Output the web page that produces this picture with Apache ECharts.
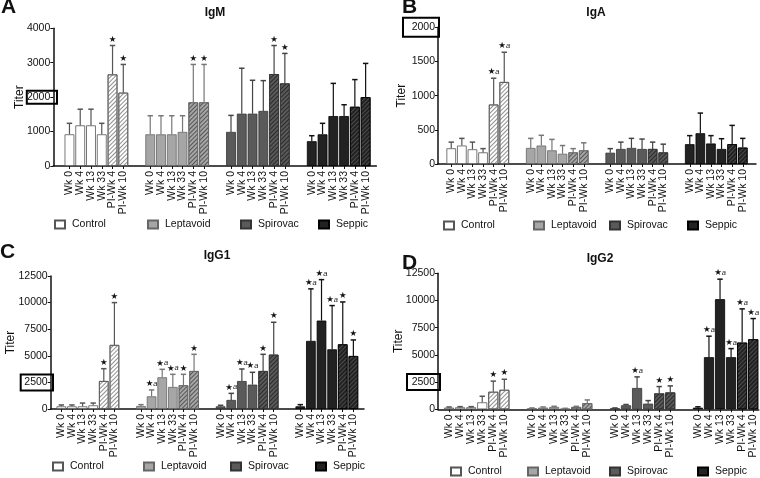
<!DOCTYPE html>
<html><head><meta charset="utf-8">
<script src="https://cdn.jsdelivr.net/npm/echarts@6/dist/echarts.min.js"></script>
<style>html,body{margin:0;padding:0;background:#fff}#c{width:760px;height:478px}</style>
</head><body><div id="c"></div>
<script>
// ---------- DATA ----------
const groups = ['Control', 'Leptavoid', 'Spirovac', 'Seppic'];
const timepoints = ['Wk 0', 'Wk 4', 'Wk 13', 'Wk 33', 'PI-Wk 4', 'PI-Wk 10'];
const panelTitles = ['IgM', 'IgA', 'IgG1', 'IgG2'];
const panelLetters = ['A', 'B', 'C', 'D'];
const yMax = [4000, 2000, 12500, 12500];
const yInterval = [1000, 500, 2500, 2500];
const boxedTick = [2000, 2000, 2500, 2500];

const igmMean = [[920,1180,1180,920,2660,2130],[920,920,920,990,1850,1850],[990,1520,1520,1600,2670,2400],[720,920,1450,1450,1720,2000]];
const igmErr  = [[1240,1650,1650,1240,3500,2950],[1460,1460,1460,1460,2950,2950],[1470,2840,2490,2480,3500,3270],[880,1240,2400,1780,2510,2980]];
const igmStars = [['','','','','*','*'],['','','','','*','*'],['','','','','*','*'],['','','','','','']];

const igaMean = [[230,270,215,170,870,1200],[235,270,200,150,170,200],[165,220,235,220,220,170],[290,450,300,220,290,240]];
const igaErr  = [[320,375,320,225,1255,1635],[375,420,360,270,225,310],[225,320,375,365,320,290],[415,745,415,370,565,375]];
const igaStars = [['','','','','*a','*a'],['','','','','',''],['','','','','',''],['','','','','','']];

const igg1Mean = [[250,250,250,345,2630,6020],[280,1190,2980,2070,2230,3570],[250,850,2630,2290,3570,5110],[250,6400,8310,5610,6080,4980]];
const igg1Err  = [[380,380,560,560,3790,10000],[410,1790,3730,3260,3260,5140],[350,1470,3760,3450,5140,8150],[410,11290,12160,9720,10060,6490]];
const igg1Stars = [['','','','','*','*'],['','*a','*a','*a','*','*'],['','*a','*a','*a','*','*'],['','*a','*a','*a','*','*']];

const igg2Mean = [[155,185,185,640,1610,1790],[95,155,215,60,215,560],[95,370,1960,520,1460,1550],[150,4790,10120,4790,6130,6440]];
const igg2Err  = [[215,245,245,1200,2590,2760],[125,215,275,90,275,860],[125,440,2980,800,2090,2150],[230,6720,11960,5580,9230,8340]];
const igg2Stars = [['','','','','*','*'],['','','','','',''],['','','*a','','*','*'],['','*a','*a','*a','*a','*a']];

const panelMeans = [igmMean, igaMean, igg1Mean, igg2Mean];
const panelErrs = [igmErr, igaErr, igg1Err, igg2Err];
const panelStars = [igmStars, igaStars, igg1Stars, igg2Stars];

// ---------- LAYOUT / STYLE ----------
const layout = [
  {left:53.3, top:28.3, height:137.7, w:5.385, lead:3, N:61, bg:false, nameGap:28, titleX:215, titleTop:6.5, letter:[1,-3], legendY:225, legendX:[54,147,240,318], box:[-26.5,3.7,13]},
  {left:438, top:27.3, height:136.7, w:5.3, lead:2, N:60, bg:true, nameGap:30, titleX:596, titleTop:7, letter:[402,-3], legendY:226, legendX:[443,533,609,687], box:[-35,1,19]},
  {left:50.7, top:276, height:133, w:5.31, lead:2, N:60, bg:false, nameGap:34, titleX:217, titleTop:250, letter:[0,242], legendY:467, legendX:[52,143,230,315], box:[-30,2.3,16]},
  {left:438, top:273.3, height:136, w:5.53, lead:2, N:59, bg:false, nameGap:33, titleX:600, titleTop:253, letter:[402,253], legendY:472, legendX:[450,527,609,697], box:[-31,2,16]}
];
const groupStyle = [
  {color:'#ffffff', border:'#555555', err:'#555555', decal:'#8f8f8f'},
  {color:'#a6a6a6', border:'#666666', err:'#777777', decal:'#555555'},
  {color:'#5a5a5a', border:'#333333', err:'#444444', decal:'#2a2a2a'},
  {color:'#222222', border:'#000000', err:'#111111', decal:'#4a4a4a'}
];
const FONT = '"Liberation Sans", Arial, sans-serif';
const TXT = '#111';

const chart = echarts.init(document.getElementById('c'), null, {renderer:'canvas'});
const option = {
  animation:false, backgroundColor:'#fff',
  textStyle:{fontFamily:FONT, color:TXT},
  title:[], grid:[], xAxis:[], yAxis:[], series:[], legend:[]
};

layout.forEach((L, pi) => {
  const width = L.bg ? L.N * L.w : (L.N - 1) * L.w;
  option.grid.push({left:L.left, top:L.top, width:width, height:L.height, containLabel:false, outerBoundsMode:'none'});
  const slotNames = [];
  const slotInfo = [];
  for (let k = 0; k < L.N; k++) {
    const p = k - L.lead;
    let info = null;
    if (p >= 0 && p <= 55) {
      const g = Math.floor(p / 15), r = p - g * 15;
      if (r % 2 === 0 && r <= 10) info = {g:g, i:r / 2};
    }
    slotInfo.push(info);
    slotNames.push(info ? ('b' + k) : ('s' + k));
  }
  const isBar = (idx, val) => typeof val === 'string' ? val.charAt(0) === 'b' : !!slotInfo[idx];
  option.xAxis.push({
    type:'category', gridIndex:pi, data:slotNames, boundaryGap:L.bg,
    axisLine:{show:true, lineStyle:{color:'#111', width:1.5}},
    axisTick:{show:true, length:3, alignWithLabel:true, interval:isBar, lineStyle:{color:'#111', width:1}},
    axisLabel:{show:false},
    splitLine:{show:false}
  });
  option.yAxis.push({
    type:'value', gridIndex:pi, min:0, max:yMax[pi], interval:yInterval[pi],
    axisLine:{show:true, lineStyle:{color:'#111', width:1.5}},
    axisTick:{show:true, length:3, lineStyle:{color:'#111'}},
    axisLabel:{fontSize:10.5, color:TXT, margin:3, fontFamily:FONT, formatter:(v) => String(v)},
    splitLine:{show:false},
    name:'Titer', nameLocation:'middle', nameGap:L.nameGap, nameMoveOverlap:false,
    nameTextStyle:{fontSize:12, color:TXT, fontFamily:FONT}
  });
  const bw = 2 * L.w - 1;
  groups.forEach((gname, g) => {
    const st = groupStyle[g];
    const data = slotInfo.map(info => {
      if (!info || info.g !== g) return '-';
      const v = panelMeans[pi][g][info.i];
      if (info.i >= 4) {
        return {value:v, itemStyle:{decal:{symbol:'rect', symbolSize:1, dashArrayX:[1,0], dashArrayY:[1,1.2], rotation:-Math.PI/4, color:st.decal}}};
      }
      return v;
    });
    option.series.push({
      type:'bar', name:gname, xAxisIndex:pi, yAxisIndex:pi, barWidth:bw, barGap:'-100%',
      itemStyle:{color:st.color, borderColor:st.border, borderWidth:0.8},
      silent:true, data:data, z:2
    });
  });
  const errData = [], meta = [];
  slotInfo.forEach((info, k) => {
    if (!info) return;
    errData.push([k, panelMeans[pi][info.g][info.i], panelErrs[pi][info.g][info.i]]);
    meta.push({g:info.g, label:timepoints[info.i], star:panelStars[pi][info.g][info.i]});
  });
  option.series.push({
    type:'custom', xAxisIndex:pi, yAxisIndex:pi, silent:true, z:3, clip:false, data:errData,
    renderItem:(params, api) => {
      const k = api.value(0), m = api.value(1), e = api.value(2);
      const p0 = api.coord([k, m]), p1 = api.coord([k, e]), pz = api.coord([k, 0]);
      const info = meta[params.dataIndex];
      const col = groupStyle[info.g].err;
      const ch = [
        {type:'line', shape:{x1:p0[0], y1:p0[1], x2:p1[0], y2:p1[1]}, style:{stroke:col, lineWidth:1.2}},
        {type:'line', shape:{x1:p1[0]-2.7, y1:p1[1], x2:p1[0]+2.7, y2:p1[1]}, style:{stroke:col, lineWidth:1.5}},
        {type:'text', x:pz[0], y:pz[1] + 5, rotation:Math.PI/2, style:{
          text:info.label, align:'right', verticalAlign:'middle', fontSize:10.5, fontFamily:FONT, fill:TXT}}
      ];
      if (info.star) {
        const t = '{s|\u2605}' + (info.star === '*a' ? '{a|a}' : '');
        ch.push({type:'text', x:p1[0], y:p1[1]-1.5, style:{
          text:t, align:'center', verticalAlign:'bottom',
          rich:{s:{fontSize:8.5, fill:'#111', fontFamily:'"DejaVu Sans", sans-serif'},
                a:{fontSize:7.5, fill:'#222', fontStyle:'italic', fontFamily:FONT}}
        }});
      }
      return {type:'group', children:ch};
    }
  });
  option.title.push({text:panelLetters[pi], left:L.letter[0], top:L.letter[1], padding:0,
    textStyle:{fontSize:21, fontWeight:'bold', color:TXT, fontFamily:FONT}});
  option.title.push({text:panelTitles[pi], left:L.titleX, top:L.titleTop, textAlign:'center', padding:0,
    textStyle:{fontSize:12, fontWeight:'bold', color:TXT, fontFamily:FONT}});
  groups.forEach((gname, g) => {
    option.legend.push({data:[gname], left:L.legendX[g], top:L.legendY - 6, padding:0,
      itemWidth:10, itemHeight:8, icon:'rect', selectedMode:false,
      textStyle:{fontSize:10.5, color:TXT, fontFamily:FONT, padding:[0,0,0,2]}});
  });
});

chart.setOption(option);

const gfx = [];
layout.forEach((L, pi) => {
  const y = chart.convertToPixel({yAxisIndex:pi}, boxedTick[pi]);
  const h = L.box[2];
  gfx.push({type:'rect', silent:true, z:10,
    shape:{x:L.left + L.box[0], y:y - h/2, width:L.box[1] - L.box[0], height:h},
    style:{fill:null, stroke:'#000', lineWidth:2}});
});
chart.setOption({graphic:gfx});
</script>
</body></html>
